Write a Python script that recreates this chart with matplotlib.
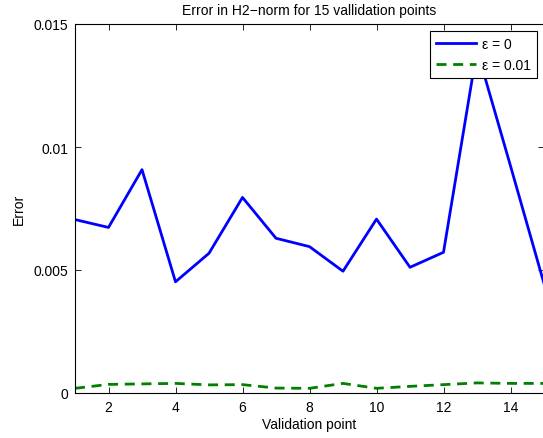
import matplotlib
matplotlib.use("Agg")
import matplotlib.pyplot as plt

plt.rcParams['font.family'] = ['Liberation Sans', 'DejaVu Sans']

points = list(range(1, 16))
err_eps0 = [0.00705, 0.00673, 0.00908, 0.00452, 0.00568, 0.00795, 0.00629, 0.00595,
            0.00495, 0.00707, 0.00511, 0.00572, 0.01395, 0.00923, 0.00445]
err_eps001 = [0.00019, 0.00035, 0.00037, 0.00039, 0.00033, 0.00034, 0.00020, 0.00019,
              0.00039, 0.00019, 0.00027, 0.00034, 0.00041, 0.00039, 0.00039]
labels = ['ε = 0', 'ε = 0.01']
xticks = [2, 4, 6, 8, 10, 12, 14]
yticks = [0, 0.005, 0.01, 0.015]
yticklabels = ['0', '0.005', '0.01', '0.015']

fig = plt.figure(figsize=(5.43, 4.39), dpi=100)
ax = fig.add_axes([75/543, 45/439, 469/543, 369/439])

ax.plot(points, err_eps0, color='#0000ff', lw=2, label=labels[0])
l2, = ax.plot(points, err_eps001, color='#008000', lw=2, ls='--', label=labels[1])
l2.set_dashes((3.6, 2.4))

ax.set_xlim(1, 15)
ax.set_ylim(0, 0.015)
ax.set_xticks(xticks)
ax.set_yticks(yticks)
ax.set_yticklabels(yticklabels)
ax.tick_params(direction='in', length=4, width=0.6, top=True, right=True,
               labelsize=10, pad=5)
for s in ax.spines.values():
    s.set_linewidth(0.8)

ax.set_title('Error in H2\u2212norm for 15 vallidation points', fontsize=10, pad=7)
ax.set_xlabel('Validation point', fontsize=10, labelpad=2)
ax.set_ylabel('Error', fontsize=10, labelpad=5)

leg = ax.legend(loc='upper right', fontsize=10, handlelength=2.9, fancybox=False,
                framealpha=1, edgecolor='black', borderaxespad=0.5,
                borderpad=0.45, labelspacing=0.5, handletextpad=0.4)
leg.get_frame().set_linewidth(0.8)

fig.savefig('out.png', dpi=100)
